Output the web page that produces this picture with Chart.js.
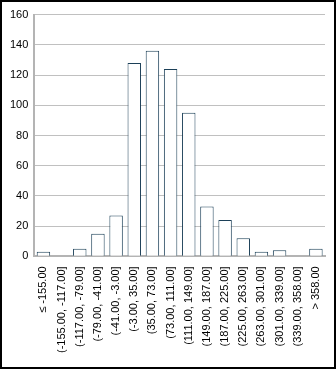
<!DOCTYPE html>
<html>
<head>
<meta charset="utf-8">
<script src="https://cdn.jsdelivr.net/npm/chart.js"></script>
<style>
  html, body { margin: 0; padding: 0; background: #fff; }
  #frame {
    width: 336px; height: 369px;
    box-sizing: border-box;
    border: 2px solid #000;
    position: relative;
  }
  #frame canvas { display: block; }
</style>
</head>
<body>
<div id="frame"><canvas id="myChart" width="332" height="365"></canvas></div>
<script>
  // bins of the histogram
  const categories = [
    "\u2264 -155.00", "(-155.00, -117.00]", "(-117.00, -79.00]", "(-79.00, -41.00]",
    "(-41.00, -3.00]", "(-3.00, 35.00]", "(35.00, 73.00]", "(73.00, 111.00]",
    "(111.00, 149.00]", "(149.00, 187.00]", "(187.00, 225.00]", "(225.00, 263.00]",
    "(263.00, 301.00]", "(301.00, 339.00]", "(339.00, 358.00]", "> 358.00"
  ];
  const counts = [3, 0, 5, 15, 27, 128, 136, 124, 95, 33, 24, 12, 3, 4, 0, 5];
  const yTicks = [0, 20, 40, 60, 80, 100, 120, 140, 160];

  const ctx = document.getElementById("myChart");
  new Chart(ctx, {
    type: "bar",
    data: {
      labels: categories,
      datasets: [{
        data: counts,
        backgroundColor: "#ffffff",
        borderColor: "#1c4058",
        borderWidth: 1,
        barPercentage: 0.74,
        categoryPercentage: 1.0
      }]
    },
    options: {
      responsive: false,
      animation: false,
      layout: { padding: { left: 2, right: 9, top: 6, bottom: 12 } },
      plugins: { legend: { display: false }, tooltip: { enabled: false } },
      scales: {
        x: {
          grid: { display: false },
          border: { color: "#b4b4b4", width: 2 },
          ticks: {
            color: "#000",
            padding: 2,
            font: { family: "Liberation Sans", size: 11 },
            minRotation: 90, maxRotation: 90,
            autoSkip: false
          }
        },
        y: {
          min: yTicks[0], max: yTicks[yTicks.length - 1],
          afterBuildTicks: (axis) => { axis.ticks = yTicks.map(v => ({ value: v })); },
          grid: { color: "#c0c0c0", drawTicks: false },
          border: { color: "#b4b4b4", width: 2 },
          ticks: {
            color: "#000",
            padding: 6,
            font: { family: "Liberation Sans", size: 11 }
          }
        }
      }
    }
  });
</script>
</body>
</html>
